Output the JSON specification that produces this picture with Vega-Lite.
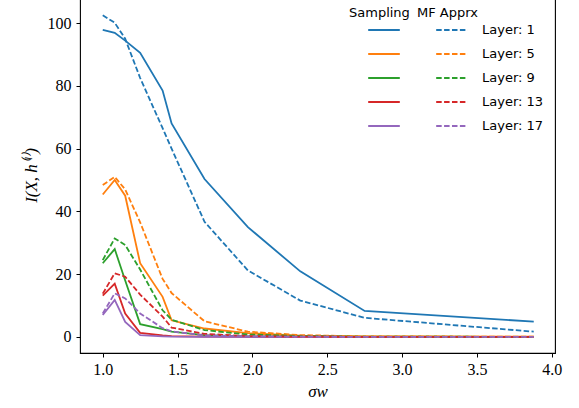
{
  "$schema": "https://vega.github.io/schema/vega-lite/v6.json",
  "width": 475,
  "height": 356,
  "autosize": {"type": "none"},
  "padding": {"left": 80, "top": -3, "right": 24, "bottom": 55},
  "background": "white",
  "config": {
    "view": {"stroke": "black", "strokeWidth": 1.1},
    "axis": {
      "domain": false,
      "grid": false,
      "ticks": true,
      "tickColor": "black",
      "tickSize": 4,
      "tickWidth": 1,
      "labelFont": "Liberation Serif",
      "labelFontSize": 16,
      "labelColor": "black",
      "titleFont": "Liberation Serif",
      "titleFontSize": 17,
      "titleFontWeight": "normal",
      "titleFontStyle": "italic",
      "titleColor": "black"
    },
    "legend": {
      "titleFont": "DejaVu Sans",
      "titleFontSize": 13,
      "titleFontWeight": "normal",
      "titleColor": "black",
      "labelFont": "DejaVu Sans",
      "labelFontSize": 13,
      "labelColor": "black"
    }
  },
  "data": {
    "values": [
      {"x": 1.0, "layer": 1, "m": "S", "y": 97.8},
      {"x": 1.08, "layer": 1, "m": "S", "y": 96.9},
      {"x": 1.15, "layer": 1, "m": "S", "y": 94.4},
      {"x": 1.25, "layer": 1, "m": "S", "y": 90.5},
      {"x": 1.4, "layer": 1, "m": "S", "y": 78.5},
      {"x": 1.46, "layer": 1, "m": "S", "y": 68.0},
      {"x": 1.68, "layer": 1, "m": "S", "y": 50.3},
      {"x": 1.97, "layer": 1, "m": "S", "y": 35.0},
      {"x": 2.32, "layer": 1, "m": "S", "y": 20.9},
      {"x": 2.75, "layer": 1, "m": "S", "y": 8.3},
      {"x": 3.88, "layer": 1, "m": "S", "y": 4.9},
      {"x": 1.0, "layer": 1, "m": "M", "y": 102.5},
      {"x": 1.08, "layer": 1, "m": "M", "y": 100.1},
      {"x": 1.15, "layer": 1, "m": "M", "y": 95.0},
      {"x": 1.25, "layer": 1, "m": "M", "y": 82.5},
      {"x": 1.4, "layer": 1, "m": "M", "y": 66.5},
      {"x": 1.46, "layer": 1, "m": "M", "y": 60.0},
      {"x": 1.68, "layer": 1, "m": "M", "y": 36.7},
      {"x": 1.97, "layer": 1, "m": "M", "y": 21.2},
      {"x": 2.32, "layer": 1, "m": "M", "y": 11.6},
      {"x": 2.75, "layer": 1, "m": "M", "y": 6.1},
      {"x": 3.88, "layer": 1, "m": "M", "y": 1.7},
      {"x": 1.0, "layer": 5, "m": "S", "y": 45.4},
      {"x": 1.08, "layer": 5, "m": "S", "y": 50.0},
      {"x": 1.15, "layer": 5, "m": "S", "y": 45.0},
      {"x": 1.25, "layer": 5, "m": "S", "y": 23.5},
      {"x": 1.4, "layer": 5, "m": "S", "y": 12.8},
      {"x": 1.46, "layer": 5, "m": "S", "y": 5.3},
      {"x": 1.68, "layer": 5, "m": "S", "y": 2.7},
      {"x": 1.97, "layer": 5, "m": "S", "y": 1.2},
      {"x": 2.32, "layer": 5, "m": "S", "y": 0.4},
      {"x": 2.75, "layer": 5, "m": "S", "y": 0.15},
      {"x": 3.88, "layer": 5, "m": "S", "y": 0.1},
      {"x": 1.0, "layer": 5, "m": "M", "y": 48.4},
      {"x": 1.08, "layer": 5, "m": "M", "y": 51.0},
      {"x": 1.15, "layer": 5, "m": "M", "y": 47.0},
      {"x": 1.25, "layer": 5, "m": "M", "y": 36.5},
      {"x": 1.4, "layer": 5, "m": "M", "y": 18.5},
      {"x": 1.46, "layer": 5, "m": "M", "y": 14.0},
      {"x": 1.68, "layer": 5, "m": "M", "y": 5.0},
      {"x": 1.97, "layer": 5, "m": "M", "y": 1.7},
      {"x": 2.32, "layer": 5, "m": "M", "y": 0.6},
      {"x": 2.75, "layer": 5, "m": "M", "y": 0.2},
      {"x": 3.88, "layer": 5, "m": "M", "y": 0.1},
      {"x": 1.0, "layer": 9, "m": "S", "y": 23.5},
      {"x": 1.08, "layer": 9, "m": "S", "y": 28.0},
      {"x": 1.15, "layer": 9, "m": "S", "y": 18.0},
      {"x": 1.25, "layer": 9, "m": "S", "y": 4.1},
      {"x": 1.4, "layer": 9, "m": "S", "y": 2.5},
      {"x": 1.46, "layer": 9, "m": "S", "y": 1.7},
      {"x": 1.68, "layer": 9, "m": "S", "y": 0.6},
      {"x": 1.97, "layer": 9, "m": "S", "y": 0.2},
      {"x": 2.32, "layer": 9, "m": "S", "y": 0.1},
      {"x": 2.75, "layer": 9, "m": "S", "y": 0.05},
      {"x": 3.88, "layer": 9, "m": "S", "y": 0.05},
      {"x": 1.0, "layer": 9, "m": "M", "y": 24.5},
      {"x": 1.08, "layer": 9, "m": "M", "y": 31.4},
      {"x": 1.15, "layer": 9, "m": "M", "y": 29.3},
      {"x": 1.25, "layer": 9, "m": "M", "y": 21.5},
      {"x": 1.4, "layer": 9, "m": "M", "y": 8.5},
      {"x": 1.46, "layer": 9, "m": "M", "y": 5.5},
      {"x": 1.68, "layer": 9, "m": "M", "y": 2.2},
      {"x": 1.97, "layer": 9, "m": "M", "y": 0.8},
      {"x": 2.32, "layer": 9, "m": "M", "y": 0.3},
      {"x": 2.75, "layer": 9, "m": "M", "y": 0.1},
      {"x": 3.88, "layer": 9, "m": "M", "y": 0.05},
      {"x": 1.0, "layer": 13, "m": "S", "y": 13.2},
      {"x": 1.08, "layer": 13, "m": "S", "y": 17.0},
      {"x": 1.15, "layer": 13, "m": "S", "y": 7.5},
      {"x": 1.25, "layer": 13, "m": "S", "y": 1.3},
      {"x": 1.4, "layer": 13, "m": "S", "y": 0.5},
      {"x": 1.46, "layer": 13, "m": "S", "y": 0.3},
      {"x": 1.68, "layer": 13, "m": "S", "y": 0.1},
      {"x": 1.97, "layer": 13, "m": "S", "y": 0.05},
      {"x": 2.32, "layer": 13, "m": "S", "y": 0.02},
      {"x": 2.75, "layer": 13, "m": "S", "y": 0.01},
      {"x": 3.88, "layer": 13, "m": "S", "y": 0.01},
      {"x": 1.0, "layer": 13, "m": "M", "y": 13.8},
      {"x": 1.08, "layer": 13, "m": "M", "y": 20.3},
      {"x": 1.15, "layer": 13, "m": "M", "y": 19.2},
      {"x": 1.25, "layer": 13, "m": "M", "y": 13.5},
      {"x": 1.4, "layer": 13, "m": "M", "y": 6.5},
      {"x": 1.46, "layer": 13, "m": "M", "y": 3.0},
      {"x": 1.68, "layer": 13, "m": "M", "y": 1.0},
      {"x": 1.97, "layer": 13, "m": "M", "y": 0.3},
      {"x": 2.32, "layer": 13, "m": "M", "y": 0.1},
      {"x": 2.75, "layer": 13, "m": "M", "y": 0.05},
      {"x": 3.88, "layer": 13, "m": "M", "y": 0.02},
      {"x": 1.0, "layer": 17, "m": "S", "y": 7.0},
      {"x": 1.08, "layer": 17, "m": "S", "y": 11.8},
      {"x": 1.15, "layer": 17, "m": "S", "y": 4.8},
      {"x": 1.25, "layer": 17, "m": "S", "y": 0.6},
      {"x": 1.4, "layer": 17, "m": "S", "y": 0.2},
      {"x": 1.46, "layer": 17, "m": "S", "y": 0.1},
      {"x": 1.68, "layer": 17, "m": "S", "y": 0.05},
      {"x": 1.97, "layer": 17, "m": "S", "y": 0.02},
      {"x": 2.32, "layer": 17, "m": "S", "y": 0.01},
      {"x": 2.75, "layer": 17, "m": "S", "y": 0.01},
      {"x": 3.88, "layer": 17, "m": "S", "y": 0.01},
      {"x": 1.0, "layer": 17, "m": "M", "y": 7.5},
      {"x": 1.08, "layer": 17, "m": "M", "y": 13.9},
      {"x": 1.15, "layer": 17, "m": "M", "y": 12.3},
      {"x": 1.25, "layer": 17, "m": "M", "y": 7.5},
      {"x": 1.4, "layer": 17, "m": "M", "y": 2.8},
      {"x": 1.46, "layer": 17, "m": "M", "y": 1.8},
      {"x": 1.68, "layer": 17, "m": "M", "y": 0.5},
      {"x": 1.97, "layer": 17, "m": "M", "y": 0.2},
      {"x": 2.32, "layer": 17, "m": "M", "y": 0.1},
      {"x": 2.75, "layer": 17, "m": "M", "y": 0.05},
      {"x": 3.88, "layer": 17, "m": "M", "y": 0.02}
    ]
  },
  "encoding": {
    "x": {
      "field": "x",
      "type": "quantitative",
      "scale": {"domain": [0.848, 4.022], "nice": false, "zero": false},
      "axis": {
        "values": [1, 1.5, 2, 2.5, 3, 3.5, 4],
        "format": ".1f",
        "labelPadding": 4,
        "title": "σw",
        "titlePadding": 6
      }
    },
    "y": {
      "field": "y",
      "type": "quantitative",
      "scale": {"domain": [-5.1, 108.3], "nice": false, "zero": false},
      "axis": {
        "values": [0, 20, 40, 60, 80, 100],
        "labelPadding": 5,
        "title": "I(X, h⁽ˡ⁾)",
        "titlePadding": 7
      }
    }
  },
  "layer": [
    {
      "transform": [{"filter": "datum.m == 'S'"}],
      "mark": {"type": "line", "strokeWidth": 1.8},
      "encoding": {
        "color": {
          "field": "layer",
          "type": "ordinal",
          "scale": {"domain": [1, 5, 9, 13, 17], "range": ["#1f77b4", "#ff7f0e", "#2ca02c", "#d62728", "#9467bd"]},
          "legend": {
            "title": "Sampling",
            "orient": "none",
            "legendX": 269,
            "legendY": 10,
            "titlePadding": -7,
            "symbolType": "stroke",
            "symbolSize": 1000,
            "symbolStrokeWidth": 2,
            "symbolOffset": 18,
            "labelExpr": "''",
            "labelOffset": 0,
            "rowPadding": 0
          }
        }
      }
    },
    {
      "transform": [{"filter": "datum.m == 'M'"}],
      "mark": {"type": "line", "strokeWidth": 1.8, "strokeDash": [5.5, 2.4]},
      "encoding": {
        "color": {
          "field": "layer",
          "type": "ordinal",
          "scale": {"domain": [1, 5, 9, 13, 17], "range": ["#1f77b4", "#ff7f0e", "#2ca02c", "#d62728", "#9467bd"]},
          "legend": {
            "title": "MF Apprx",
            "orient": "none",
            "legendX": 337,
            "legendY": 10,
            "titlePadding": -7,
            "symbolType": "stroke",
            "symbolSize": 1000,
            "symbolStrokeWidth": 2,
            "symbolDash": [5.5, 2.4],
            "symbolOffset": 18,
            "labelExpr": "'Layer: ' + datum.label",
            "labelOffset": 13,
            "rowPadding": 0
          }
        }
      }
    }
  ],
  "resolve": {"scale": {"color": "independent"}, "legend": {"color": "independent"}}
}
